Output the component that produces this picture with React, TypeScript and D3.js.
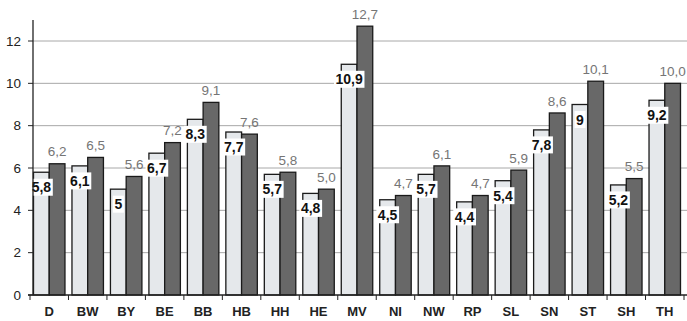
import * as d3 from 'd3'
import { useEffect, useRef } from 'react'

const regions = ['D', 'BW', 'BY', 'BE', 'BB', 'HB', 'HH', 'HE', 'MV', 'NI', 'NW', 'RP', 'SL', 'SN', 'ST', 'SH', 'TH']
const lightValues = [5.8, 6.1, 5, 6.7, 8.3, 7.7, 5.7, 4.8, 10.9, 4.5, 5.7, 4.4, 5.4, 7.8, 9, 5.2, 9.2]
const darkValues = [6.2, 6.5, 5.6, 7.2, 9.1, 7.6, 5.8, 5.0, 12.7, 4.7, 6.1, 4.7, 5.9, 8.6, 10.1, 5.5, 10.0]
const lightLabels = ['5,8', '6,1', '5', '6,7', '8,3', '7,7', '5,7', '4,8', '10,9', '4,5', '5,7', '4,4', '5,4', '7,8', '9', '5,2', '9,2']
const darkLabels = ['6,2', '6,5', '5,6', '7,2', '9,1', '7,6', '5,8', '5,0', '12,7', '4,7', '6,1', '4,7', '5,9', '8,6', '10,1', '5,5', '10,0']
const yTicks = [0, 2, 4, 6, 8, 10, 12]

const W = 687
const H = 321
const font = 'Liberation Sans, Arial, sans-serif'

export default function App() {
    const chart = useRef<SVGSVGElement>(null)

    useEffect(() => {
        const svg = d3.select(chart.current)
        svg.selectAll('*').remove()

        const axisX = 33
        const x = d3.scaleBand<number>()
            .domain(d3.range(regions.length))
            .range([30, 684])
        const y = d3.scaleLinear()
            .domain([0, 12])
            .range([295, 41])

        const pad = 3.5
        const bw = (x.bandwidth() - 2 * pad) / 2

        // gridlines
        svg.append('g')
            .selectAll('line')
            .data(yTicks.filter(t => t > 0))
            .join('line')
                .attr('x1', axisX)
                .attr('x2', W)
                .attr('y1', d => y(d))
                .attr('y2', d => y(d))
                .attr('stroke', '#a8a8a8')
                .attr('stroke-width', 1)

        // y ticks + labels
        const yg = svg.append('g')
        yg.selectAll('line')
            .data(yTicks)
            .join('line')
                .attr('x1', axisX - 5)
                .attr('x2', axisX)
                .attr('y1', d => y(d))
                .attr('y2', d => y(d))
                .attr('stroke', '#222')
        yg.selectAll('text')
            .data(yTicks)
            .join('text')
                .attr('x', 21)
                .attr('y', d => y(d))
                .attr('dy', '0.35em')
                .attr('text-anchor', 'end')
                .attr('font-family', font)
                .attr('font-size', 13.5)
                .attr('fill', '#222')
                .text(d => d)

        // light bars
        svg.append('g')
            .selectAll('rect')
            .data(lightValues)
            .join('rect')
                .attr('x', (d, i) => x(i)! + pad)
                .attr('y', d => y(d))
                .attr('width', bw)
                .attr('height', d => y(0) - y(d))
                .attr('fill', '#e5e8eb')
                .attr('stroke', '#1a1a1a')
                .attr('stroke-width', 1.3)

        // dark bars
        svg.append('g')
            .selectAll('rect')
            .data(darkValues)
            .join('rect')
                .attr('x', (d, i) => x(i)! + pad + bw)
                .attr('y', d => y(d))
                .attr('width', bw)
                .attr('height', d => y(0) - y(d))
                .attr('fill', '#686868')
                .attr('stroke', '#1a1a1a')
                .attr('stroke-width', 1.3)

        // light labels with white box
        const lg = svg.append('g')
            .selectAll('g')
            .data(lightValues)
            .join('g')
                .attr('transform', (d, i) => `translate(${x(i)! + pad + bw / 2},${y(d) + 15})`)
        lg.append('text')
            .attr('text-anchor', 'middle')
            .attr('dy', '0.36em')
            .attr('font-family', font)
            .attr('font-size', 14)
            .attr('font-weight', 'bold')
            .attr('fill', '#111')
            .text((d, i) => lightLabels[i])
        lg.each(function () {
            const g = d3.select(this)
            const t = g.select<SVGTextElement>('text').node()!
            const b = t.getBBox()
            g.insert('rect', 'text')
                .attr('x', b.x - 1.5)
                .attr('y', -8.5)
                .attr('width', b.width + 3)
                .attr('height', 17)
                .attr('fill', '#fff')
        })

        // dark labels
        svg.append('g')
            .selectAll('text')
            .data(darkValues)
            .join('text')
                .attr('x', (d, i) => x(i)! + pad + bw * 1.5)
                .attr('y', d => y(d) - 12)
                .attr('dy', '0.35em')
                .attr('text-anchor', 'middle')
                .attr('font-family', font)
                .attr('font-size', 13.5)
                .attr('fill', '#757575')
                .text((d, i) => darkLabels[i])

        // axes lines
        svg.append('line')
            .attr('x1', axisX).attr('x2', axisX)
            .attr('y1', 20).attr('y2', y(0))
            .attr('stroke', '#222').attr('stroke-width', 1.3)
        svg.append('line')
            .attr('x1', 28).attr('x2', W)
            .attr('y1', y(0)).attr('y2', y(0))
            .attr('stroke', '#222').attr('stroke-width', 1.3)

        const xg = svg.append('g')
        xg.selectAll('line')
            .data(d3.range(regions.length + 1))
            .join('line')
                .attr('x1', i => (i < regions.length ? x(i)! : x(regions.length - 1)! + x.bandwidth()))
                .attr('x2', i => (i < regions.length ? x(i)! : x(regions.length - 1)! + x.bandwidth()))
                .attr('y1', y(0))
                .attr('y2', y(0) + 5)
                .attr('stroke', '#222')
        xg.selectAll('text')
            .data(regions)
            .join('text')
                .attr('x', (d, i) => x(i)! + x.bandwidth() / 2)
                .attr('y', 311)
                .attr('dy', '0.35em')
                .attr('text-anchor', 'middle')
                .attr('font-family', font)
                .attr('font-size', 13)
                .attr('font-weight', 'bold')
                .attr('fill', '#222')
                .text(d => d)
    }, [])

    return (
        <svg ref={chart} width={W} height={H}
            style={{ position: 'absolute', left: 0, top: 0, background: '#fff' }}></svg>
    )
}
